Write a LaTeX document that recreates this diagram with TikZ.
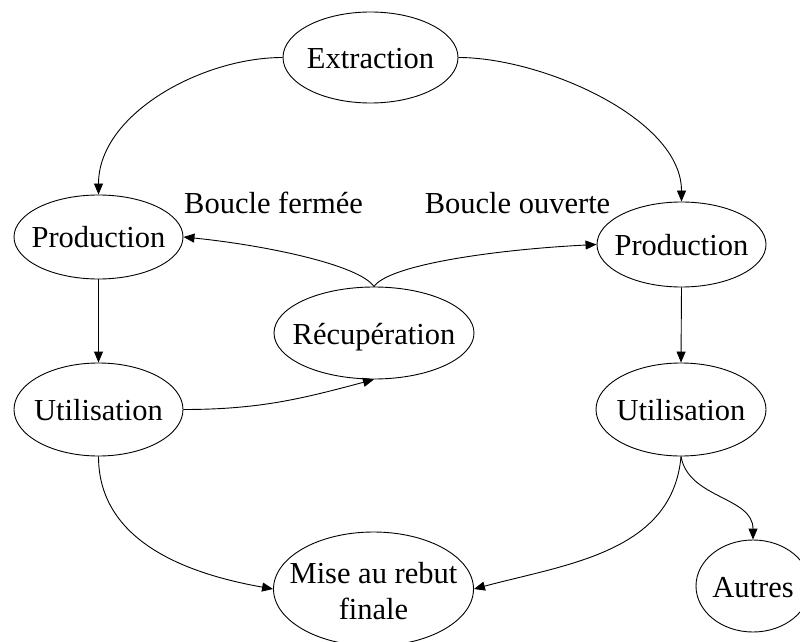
\documentclass[tikz,border=0pt]{standalone}
\usepackage{fontspec}
\setmainfont{Liberation Serif}
\usetikzlibrary{shapes.geometric,arrows.meta}
\newcommand{\ntxt}[1]{\makebox[0pt]{\smash{#1}\rule{0pt}{22pt}}}
\begin{document}
\begin{tikzpicture}[x=1pt,y=1pt,
  font=\fontsize{30.5}{36}\selectfont,
  ell/.style={ellipse,draw,line width=0.9pt,inner sep=0pt},
  arr/.style={line width=0.9pt,-{Triangle[length=11pt,width=9pt]}},
  lbl/.style={anchor=base,inner sep=0pt}]
\clip (0,0) rectangle (800,641);
\node[ell,minimum width=175pt,minimum height=91pt] (ext) at (370.5,583.5) {\ntxt{Extraction}};
\node[ell,minimum width=169pt,minimum height=84pt] (prodL) at (98.5,404) {\ntxt{Production}};
\node[ell,minimum width=169pt,minimum height=85pt] (prodR) at (681.5,396.5) {\ntxt{Production}};
\node[ell,minimum width=200pt,minimum height=92pt] (recup) at (374,308) {\ntxt{Récupération}};
\node[ell,minimum width=169pt,minimum height=93pt] (utilL) at (98.5,231.5) {\ntxt{Utilisation}};
\node[ell,minimum width=170pt,minimum height=93pt] (utilR) at (681,231.5) {\ntxt{Utilisation}};
\node[ell,minimum width=200pt,minimum height=114pt] (mise) at (373.5,52) {\makebox[0pt]{\smash{\begin{tabular}[t]{@{}c@{}}Mise au rebut\\finale\end{tabular}}\rule[-12pt]{0pt}{12pt}}};
\node[ell,minimum width=114pt,minimum height=92pt] (autres) at (753,55) {\ntxt{Autres}};
\node[lbl] (bf) at (273.5,428) {Boucle fermée};
\node[lbl] (bo) at (517.5,428) {Boucle ouverte};
\draw[arr] (ext.west) to[out=180,in=90,looseness=0.9] (prodL.north);
\draw[arr] (ext.east) to[out=0,in=90,looseness=0.8] (prodR.north);
\draw[arr] (recup.north) .. controls +(-15,22) and +(80,-8) .. (prodL.east);
\draw[arr] (recup.north) .. controls +(15,22) and +(-100,-5) .. (prodR.west);
\draw[arr] (prodL.south) -- (utilL.north);
\draw[arr] (prodR.south) -- (utilR.north);
\draw[arr] (utilL.east) to[out=0,in=195] (recup.south);
\draw[arr] (utilL.south) to[out=-90,in=170] (mise.west);
\draw[arr] (utilR.south) to[out=-95,in=15] (mise.east);
\draw[arr] (utilR.south) to[out=-80,in=90] (autres.north);
\end{tikzpicture}
\end{document}
